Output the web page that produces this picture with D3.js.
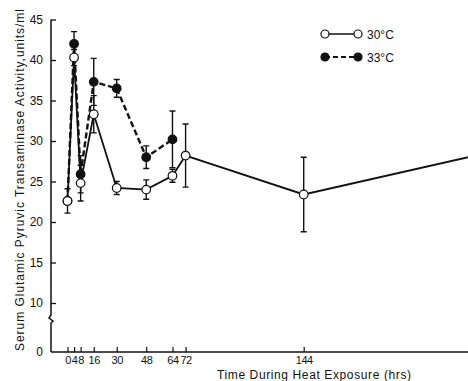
<!DOCTYPE html>
<html>
<head>
<meta charset="utf-8">
<script src="https://cdn.jsdelivr.net/npm/d3@7"></script>
<style>
  body { margin: 0; background: #fff; }
  text { font-family: "Liberation Sans", Arial, sans-serif; fill: #111; }
</style>
</head>
<body>
<div id="chart"></div>
<script>
// hours of sampling
const hours30 = [0, 4, 8, 16, 30, 48, 64, 72, 144, 264];
const sgpt30  = [22.6, 40.3, 24.8, 33.3, 24.2, 24.0, 25.7, 28.2, 23.4, 28.9];
const err30   = [1.5, 1.0, 2.2, 2.3, 0.8, 1.2, 0.8, 3.9, 4.6, 0];

const hours33 = [0, 4, 8, 16, 30, 48, 64];
const sgpt33  = [22.6, 42.0, 25.9, 37.3, 36.5, 28.0, 30.2];
const err33   = [0, 1.5, 2.3, 2.9, 1.1, 1.4, 3.5];

const xTicks = [0, 4, 8, 16, 30, 48, 64, 72, 144];
const yTicks = [0, 10, 15, 20, 25, 30, 35, 40, 45];

const W = 468, H = 381;
const axisX = 51, baseY = 352;

const svg = d3.select("#chart").append("svg")
  .attr("width", W).attr("height", H);

const x = d3.scaleLinear().domain([0, 144]).range([67.5, 303.7]);
// broken axis: 0 sits below the break, 10..45 above
const y = d3.scaleLinear().domain([0, 10, 45]).range([baseY, 303, 19.5]);

svg.append("clipPath").attr("id", "clip")
  .append("rect").attr("x", 0).attr("y", 0).attr("width", W).attr("height", H);

// y axis
const yAxis = svg.append("g")
  .attr("transform", "translate(" + axisX + ",0)")
  .call(d3.axisLeft(y).tickValues(yTicks).tickSize(-5).tickPadding(8));
yAxis.select(".domain").remove();
yAxis.selectAll(".tick line").attr("stroke", "#111").attr("stroke-width", 1.3)
  .filter(d => d === 0).remove();
yAxis.selectAll(".tick text").attr("font-size", 12).style("font-family", "Liberation Sans, Arial, sans-serif").attr("fill", "#111");

svg.append("path")
  .attr("d", "M" + axisX + "," + y(45) + "V315 l-2,3 l4,3 l-2,2 V" + baseY)
  .attr("fill", "none").attr("stroke", "#111").attr("stroke-width", 1.5);

// x axis
const xAxis = svg.append("g")
  .attr("transform", "translate(0," + baseY + ")")
  .call(d3.axisBottom(x).tickValues(xTicks).tickSize(-5).tickPadding(4));
xAxis.select(".domain").remove();
xAxis.selectAll(".tick line").attr("stroke", "#111").attr("stroke-width", 1.2);
xAxis.selectAll(".tick text").attr("font-size", 11).attr("letter-spacing", -0.5)
  .style("font-family", "Liberation Sans, Arial, sans-serif").attr("fill", "#111");

svg.append("line")
  .attr("x1", axisX).attr("x2", W).attr("y1", baseY).attr("y2", baseY)
  .attr("stroke", "#111").attr("stroke-width", 1.5);

// axis titles
svg.append("text")
  .attr("transform", "translate(24,180) rotate(-90)")
  .attr("text-anchor", "middle")
  .attr("font-size", 12)
  .attr("textLength", 342)
  .text("Serum Glutamic Pyruvic Transaminase Activity,units/ml");

svg.append("text")
  .attr("x", 314).attr("y", 379)
  .attr("text-anchor", "middle")
  .attr("font-size", 12)
  .attr("textLength", 194)
  .text("Time During Heat Exposure (hrs)");

const plot = svg.append("g").attr("clip-path", "url(#clip)");

function drawSeries(hours, vals, errs, filled, dashed) {
  const pts = hours.map((h, i) => ({ h: h, v: vals[i], e: errs[i] }));

  plot.selectAll(null).data(pts.filter(d => d.e > 0)).enter().append("path")
    .attr("d", d => {
      const cx = x(d.h), t = y(d.v + d.e), b = y(d.v - d.e);
      return "M" + cx + "," + t + "V" + b +
        "M" + (cx - 3) + "," + t + "H" + (cx + 3) +
        "M" + (cx - 3) + "," + b + "H" + (cx + 3);
    })
    .attr("stroke", "#111").attr("stroke-width", 1.4).attr("fill", "none");

  plot.append("path")
    .datum(pts)
    .attr("d", d3.line().x(d => x(d.h)).y(d => y(d.v)))
    .attr("fill", "none").attr("stroke", "#111")
    .attr("stroke-width", dashed ? 2.4 : 1.8)
    .attr("stroke-dasharray", dashed ? "6,3" : null);

  plot.selectAll(null).data(pts).enter().append("circle")
    .attr("cx", d => x(d.h)).attr("cy", d => y(d.v)).attr("r", 4.3)
    .attr("fill", filled ? "#111" : "#fff")
    .attr("stroke", "#111").attr("stroke-width", 1.2);
}

drawSeries(hours33, sgpt33, err33, true, true);
drawSeries(hours30, sgpt30, err30, false, false);

// legend
const legend = [
  { label: "30\u00b0C", filled: false, dashed: false, y: 34 },
  { label: "33\u00b0C", filled: true, dashed: true, y: 57 }
];
legend.forEach(l => {
  const g = svg.append("g");
  g.append("line").attr("x1", 325).attr("x2", 358).attr("y1", l.y).attr("y2", l.y)
    .attr("stroke", "#111").attr("stroke-width", l.dashed ? 2.2 : 1.6)
    .attr("stroke-dasharray", l.dashed ? "5,3" : null);
  [325, 358].forEach(cx => g.append("circle").attr("cx", cx).attr("cy", l.y).attr("r", 4)
    .attr("fill", l.filled ? "#111" : "#fff").attr("stroke", "#111").attr("stroke-width", 1.2));
  g.append("text").attr("x", 367).attr("y", l.y + 4.5).attr("font-size", 12).text(l.label);
});
</script>
</body>
</html>
